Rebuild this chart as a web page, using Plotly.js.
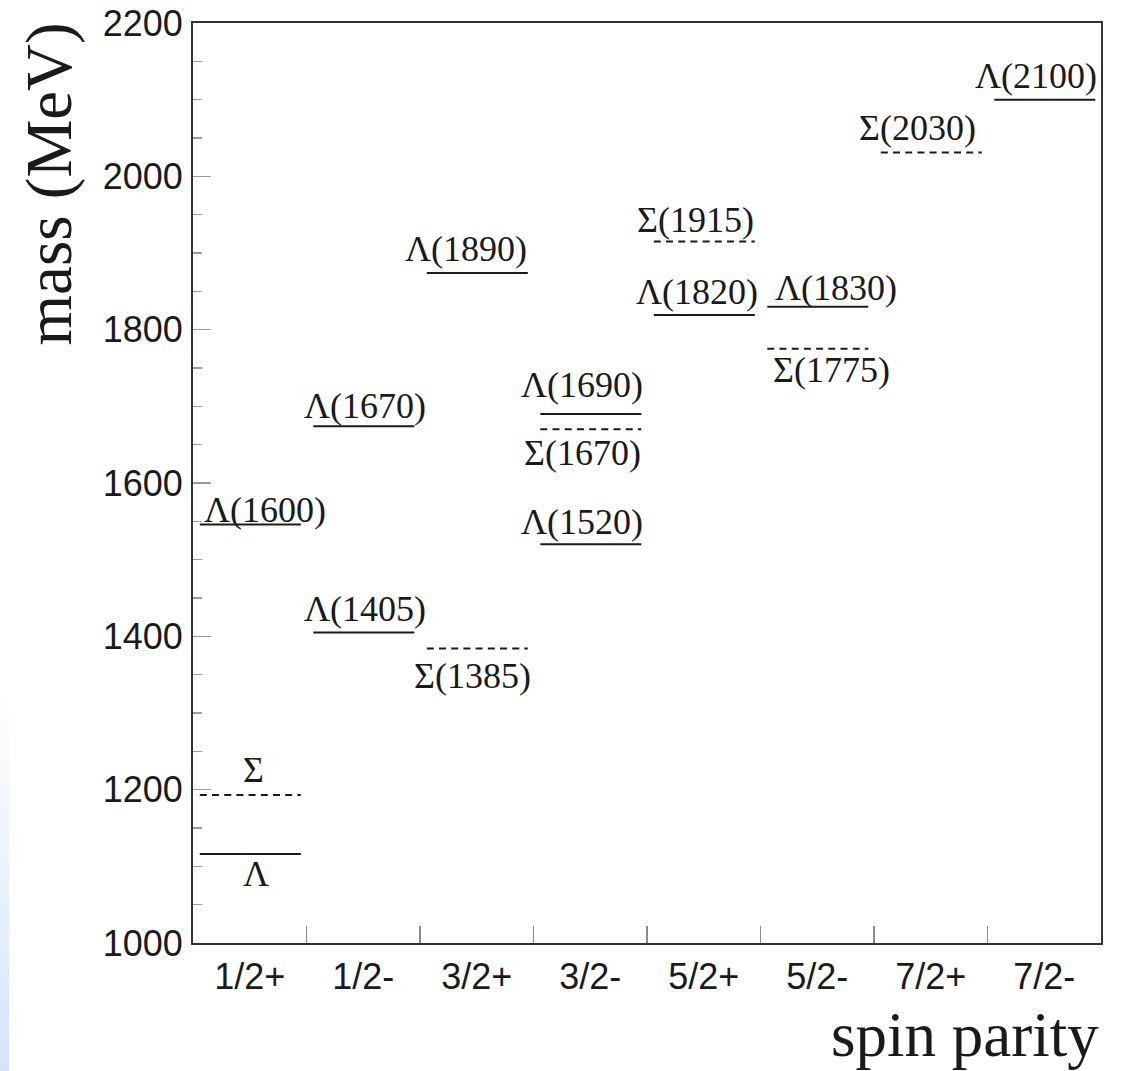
<!DOCTYPE html>
<html>
<head>
<meta charset="utf-8">
<script src="https://cdn.plot.ly/plotly-3.0.1.min.js"></script>
<style>
  html, body { margin: 0; padding: 0; background: #ffffff; }
  #chart { width: 1122px; height: 1071px; position: relative; }
  #edge { position: absolute; left: 0; top: 690px; width: 9px; height: 381px;
          background: linear-gradient(to bottom, rgba(255,255,255,1), #d5e4fb); pointer-events: none; }
</style>
</head>
<body>
<div id="chart"></div>
<div id="edge"></div>
<script>
// ---- data ----
const spinParity = ['1/2+', '1/2-', '3/2+', '3/2-', '5/2+', '5/2-', '7/2+', '7/2-'];

const lambdaNames = ['Λ', 'Λ(1405)', 'Λ(1520)', 'Λ(1600)', 'Λ(1670)', 'Λ(1690)', 'Λ(1820)', 'Λ(1830)', 'Λ(1890)', 'Λ(2100)'];
const lambdaJP    = ['1/2+', '1/2-', '3/2-', '1/2+', '1/2-', '3/2-', '5/2+', '5/2-', '3/2+', '7/2-'];
const lambdaMass  = [1116, 1405, 1520, 1546, 1674, 1690, 1819, 1830, 1874, 2100];

const sigmaNames = ['Σ', 'Σ(1385)', 'Σ(1670)', 'Σ(1775)', 'Σ(1915)', 'Σ(2030)'];
const sigmaJP    = ['1/2+', '3/2+', '3/2-', '5/2-', '5/2+', '7/2+'];
const sigmaMass  = [1193, 1384, 1670, 1775, 1915, 2031];

// ---- label placement (pixels: dx right, baseline offset below the level line) ----
const labelOffset = {
  'Λ': [6, 32], 'Λ(1405)': [2, -11], 'Λ(1520)': [-8, -10], 'Λ(1600)': [14.75, -2.6],
  'Λ(1670)': [2, -8], 'Λ(1690)': [-8, -16.6], 'Λ(1820)': [-7, -10.7], 'Λ(1830)': [18.5, -6.7],
  'Λ(1890)': [-11, -11.6], 'Λ(2100)': [-8.5, -12],
  'Σ': [4, -13], 'Σ(1385)': [-4.5, 39.7], 'Σ(1670)': [-7.5, 35.7], 'Σ(1775)': [14.5, 33.7],
  'Σ(1915)': [-8, -9.3], 'Σ(2030)': [-13, -12]
};

const LEFT = -0.44, RIGHT = 0.45;
const serif = 'Liberation Serif, Times New Roman, serif';
const sans = 'Liberation Sans, Arial, Helvetica, sans-serif';
const LABEL_SIZE = 36;
const ink = '#1a1a1a';

const traces = [];
const annotations = [];

function addLevels(names, jps, masses, dash) {
  names.forEach((name, k) => {
    const xi = spinParity.indexOf(jps[k]);
    traces.push({
      type: 'scatter', mode: 'lines',
      x: [xi + LEFT, xi + RIGHT], y: [masses[k], masses[k]],
      line: { color: ink, width: 2, dash: dash },
      hoverinfo: 'skip', showlegend: false
    });
    const off = labelOffset[name] || [0, -10];
    annotations.push({
      xref: 'x', yref: 'y', x: xi, y: masses[k],
      text: name, showarrow: false,
      xanchor: 'center', yanchor: 'middle',
      xshift: off[0], yshift: 0.3375 * LABEL_SIZE - off[1],
      font: { family: serif, size: LABEL_SIZE, color: ink }
    });
  });
}
addLevels(lambdaNames, lambdaJP, lambdaMass, 'solid');
addLevels(sigmaNames, sigmaJP, sigmaMass, '7px,5.2px');

// axis titles
annotations.push({
  xref: 'paper', yref: 'paper', x: 1, y: 0, xshift: 0, yshift: -55,
  xanchor: 'right', yanchor: 'top', showarrow: false,
  text: 'spin parity', font: { family: serif, size: 63, color: ink }
});
annotations.push({
  xref: 'paper', yref: 'paper', x: 0, y: 1, xshift: -145, yshift: 2,
  xanchor: 'center', yanchor: 'top', showarrow: false, textangle: -90,
  text: 'mass (MeV)', font: { family: serif, size: 65, color: ink }
});

const layout = {
  width: 1122, height: 1071,
  margin: { l: 193, r: 21, t: 23, b: 128, pad: 0 },
  paper_bgcolor: 'rgba(0,0,0,0)', plot_bgcolor: '#ffffff',
  showlegend: false,
  xaxis: {
    range: [-0.5, 7.5], fixedrange: true, zeroline: false, showgrid: false,
    tickmode: 'array', tickvals: spinParity.map((_, i) => i), ticktext: spinParity,
    ticks: '', ticklabelstandoff: 1,
    tickfont: { family: sans, size: 36, color: ink },
    showline: true, linecolor: '#333', linewidth: 2, mirror: true,
    minor: { tickmode: 'array', tickvals: spinParity.slice(1).map((_, i) => i + 0.5),
             ticks: 'inside', ticklen: 17, tickwidth: 1.5, tickcolor: '#8a8a8a' }
  },
  yaxis: {
    range: [1000, 2200], fixedrange: true, zeroline: false, showgrid: false,
    tickmode: 'linear', tick0: 1000, dtick: 200,
    ticks: 'inside', ticklen: 18, tickwidth: 1.5, tickcolor: '#9a9a9a',
    ticklabelstandoff: 1,
    tickfont: { family: sans, size: 36, color: ink },
    showline: true, linecolor: '#333', linewidth: 2, mirror: true,
    minor: { tick0: 1000, dtick: 50, ticks: 'inside', ticklen: 9, tickwidth: 1.5, tickcolor: '#9a9a9a' }
  },
  annotations: annotations
};

Plotly.newPlot('chart', traces, layout, { displayModeBar: false, staticPlot: true });
</script>
</body>
</html>
